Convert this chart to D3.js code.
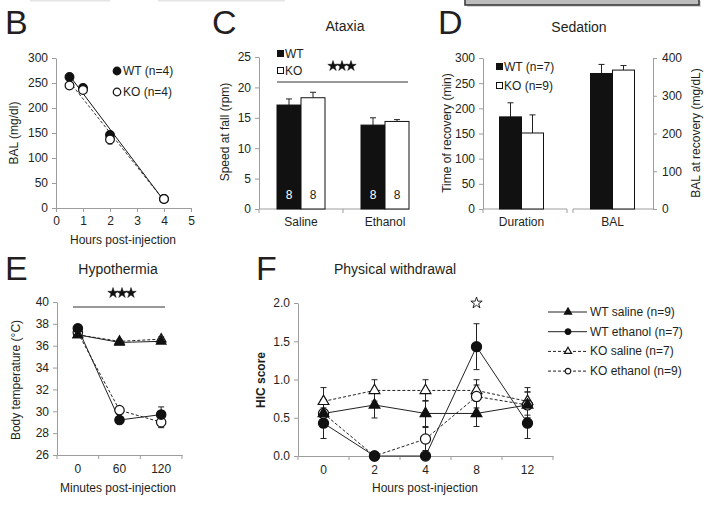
<!DOCTYPE html>
<html>
<head>
<meta charset="utf-8">
<script src="https://cdn.jsdelivr.net/npm/d3@7"></script>
<style>
body { margin: 0; background: #fff; }
svg { font-family: "Liberation Sans", Arial, sans-serif; }
</style>
</head>
<body>
<svg id="fig" width="723" height="505"></svg>
<script>
// ---- data ----
// B: blood alcohol clearance
const bHours = [0.5, 1, 2, 4];
const bWT = [262, 240, 146, 18];
const bWTErr = [6, 5, 6, 2];
const bKO = [245, 236, 137, 18];
const bKOErr = [6, 5, 9, 2];

// C: ataxia
const cCats = ["Saline", "Ethanol"];
const cWT = [17.1, 13.8];
const cWTErr = [1.0, 1.2];
const cKO = [18.3, 14.4];
const cKOErr = [0.9, 0.3];
const cN = [8, 8];

// D: sedation (Duration on left axis, BAL on right axis)
const dCats = ["Duration", "BAL"];
const dWT = [183, 359];
const dWTErr = [28, 24];
const dKO = [151, 368];
const dKOErr = [36, 12];

// E: hypothermia
const eTimes = ["0", "60", "120"];
const eWTSal = [37.0, 36.3, 36.4];
const eWTSalErr = [0.2, 0.15, 0.2];
const eWTEth = [37.6, 29.2, 29.7];
const eWTEthErr = [0.25, 0.2, 0.7];
const eKOSal = [37.0, 36.4, 36.6];
const eKOSalErr = [0.2, 0.15, 0.2];
const eKOEth = [37.2, 30.1, 29.0];
const eKOEthErr = [0.3, 0.2, 0.5];

// F: physical withdrawal
const fHours = ["0", "2", "4", "8", "12"];
const fWTSal = [0.556, 0.667, 0.556, 0.556, 0.667];
const fWTSalErr = [0.18, 0.17, 0.17, 0.17, 0.17];
const fWTEth = [0.429, 0, 0, 1.429, 0.429];
const fWTEthErr = [0.2, 0, 0, 0.3, 0.2];
const fKOSal = [0.714, 0.857, 0.857, 0.857, 0.714];
const fKOSalErr = [0.18, 0.14, 0.14, 0.14, 0.18];
const fKOEth = [0.556, 0, 0.222, 0.778, 0.667];
const fKOEthErr = [0.18, 0, 0.15, 0.15, 0.17];
const fLegend = ["WT saline (n=9)", "WT ethanol (n=7)", "KO saline (n=7)", "KO ethanol (n=9)"];

const ink = "#231f20";
const axisGray = "#9d9d9d";

const svg = d3.select("#fig");

function styleAxis(g) {
	g.attr("font-size", 12).attr("font-family", null);
	g.select(".domain").attr("stroke", axisGray);
	g.selectAll(".tick line").attr("stroke", axisGray);
	g.selectAll(".tick text").attr("fill", ink);
}

function label(x, y, txt, opts = {}) {
	const t = svg.append("text")
		.attr("x", x).attr("y", y)
		.attr("fill", ink)
		.attr("font-size", opts.size || 12)
		.attr("text-anchor", opts.anchor || "middle")
		.text(txt);
	if (opts.rotate) t.attr("transform", `rotate(-90,${x},${y})`);
	if (opts.weight) t.attr("font-weight", opts.weight);
	return t;
}

// vertical error bar; lowCap=false gives a one-sided bar (bars in C, D)
function errBar(g, x, yLo, yHi, cap = 3, lowCap = true) {
	g.append("line").attr("x1", x).attr("x2", x).attr("y1", yLo).attr("y2", yHi)
		.attr("stroke", "#222").attr("stroke-width", 1);
	g.append("line").attr("x1", x - cap).attr("x2", x + cap).attr("y1", yHi).attr("y2", yHi)
		.attr("stroke", "#222").attr("stroke-width", 1);
	if (lowCap) {
		g.append("line").attr("x1", x - cap).attr("x2", x + cap).attr("y1", yLo).attr("y2", yLo)
			.attr("stroke", "#222").attr("stroke-width", 1);
	}
}

function marker(g, x, y, type, filled, size) {
	const sym = type === "tri" ? d3.symbolTriangle : d3.symbolCircle;
	g.append("path")
		.attr("d", d3.symbol().type(sym).size(size)())
		.attr("transform", `translate(${x},${y})`)
		.attr("fill", filled ? "#111" : "#fff")
		.attr("stroke", "#111")
		.attr("stroke-width", 1.2);
}

function stars(g, cx, cy, n, filled) {
	for (let i = 0; i < n; i++) {
		g.append("path")
			.attr("d", d3.symbol().type(d3.symbolStar).size(filled ? 34 : 40)())
			.attr("transform", `translate(${cx + (i - (n - 1) / 2) * 9},${cy})`)
			.attr("fill", filled ? "#111" : "#fff")
			.attr("stroke", "#111")
			.attr("stroke-width", filled ? 0.5 : 0.9);
	}
}

// top remnants of the panel above
svg.append("rect").attr("x", 30).attr("y", 0).attr("width", 80).attr("height", 1.5).attr("fill", "#e4e4e4");
svg.append("rect").attr("x", 158).attr("y", 0).attr("width", 127).attr("height", 1.5).attr("fill", "#e4e4e4");
svg.append("rect").attr("x", 467).attr("y", 1).attr("width", 234).attr("height", 6).attr("fill", "#d8d8d8");
svg.append("rect").attr("x", 465).attr("y", -6).attr("width", 234).attr("height", 11)
	.attr("fill", "#bdbdbd").attr("stroke", "#333").attr("stroke-width", 1.5);

// panel letters
[["B", 5, 34], ["C", 212, 34], ["D", 438, 34], ["E", 5, 280], ["F", 256, 280]].forEach(([l, x, y]) => {
	label(x, y, l, { size: 34, anchor: "start" });
});

// ---- B ----
{
	const g = svg.append("g");
	const x = d3.scaleLinear().domain([0, 5]).range([56, 191]);
	const y = d3.scaleLinear().domain([0, 300]).range([208, 58]);

	g.append("g").attr("transform", "translate(0,208)")
		.call(d3.axisBottom(x).ticks(5).tickSize(4).tickSizeOuter(0).tickPadding(4)).call(styleAxis);
	g.append("g").attr("transform", "translate(56,0)")
		.call(d3.axisLeft(y).ticks(6).tickSize(4).tickSizeOuter(0).tickPadding(4)).call(styleAxis);

	// least squares fit lines
	function fit(xs, ys) {
		const mx = d3.mean(xs), my = d3.mean(ys);
		const sxy = d3.sum(xs, (v, i) => (v - mx) * (ys[i] - my));
		const sxx = d3.sum(xs, v => (v - mx) ** 2);
		const b = sxy / sxx;
		return v => my + b * (v - mx);
	}
	const fW = fit(bHours, bWT), fK = fit(bHours, bKO);
	const x0 = bHours[0], x1 = bHours[bHours.length - 1];
	g.append("line").attr("x1", x(x0)).attr("x2", x(x1)).attr("y1", y(fK(x0))).attr("y2", y(fK(x1)))
		.attr("stroke", "#333").attr("stroke-dasharray", "3,2");
	g.append("line").attr("x1", x(x0)).attr("x2", x(x1)).attr("y1", y(fW(x0))).attr("y2", y(fW(x1)))
		.attr("stroke", "#111");

	bHours.forEach((h, i) => {
		errBar(g, x(h), y(bKO[i] - bKOErr[i]), y(bKO[i] + bKOErr[i]), 2.5);
		errBar(g, x(h), y(bWT[i] - bWTErr[i]), y(bWT[i] + bWTErr[i]), 2.5);
		marker(g, x(h), y(bWT[i]), "circ", true, 60);
		marker(g, x(h), y(bKO[i]), "circ", false, 60);
	});

	marker(g, 117, 71, "circ", true, 45);
	label(123, 75, "WT (n=4)", { anchor: "start" });
	marker(g, 117, 92, "circ", false, 45);
	label(123, 96, "KO (n=4)", { anchor: "start" });

	label(123, 244, "Hours post-injection");
	label(18, 133, "BAL (mg/dl)", { rotate: true });
}

// ---- C ----
{
	const g = svg.append("g");
	const x = d3.scaleBand().domain(cCats).range([259, 427]);
	const y = d3.scaleLinear().domain([0, 25]).range([209, 57]);
	const bw = 24;

	label(345, 31, "Ataxia", { size: 14 });

	g.append("g").attr("transform", "translate(259,0)")
		.call(d3.axisLeft(y).ticks(5).tickSize(4).tickSizeOuter(0).tickPadding(4)).call(styleAxis);
	g.append("line").attr("x1", 259).attr("x2", 409).attr("y1", 209).attr("y2", 209).attr("stroke", axisGray);
	[259, 343].forEach(t => g.append("line").attr("x1", t).attr("x2", t).attr("y1", 209).attr("y2", 213).attr("stroke", axisGray));

	cCats.forEach((c, i) => {
		const xc = x(c) + x.bandwidth() / 2;
		errBar(g, xc - bw / 2, y(cWT[i]), y(cWT[i] + cWTErr[i]), 3, false);
		errBar(g, xc + bw / 2, y(cKO[i]), y(cKO[i] + cKOErr[i]), 3, false);
		g.append("rect").attr("x", xc - bw).attr("y", y(cWT[i])).attr("width", bw).attr("height", y(0) - y(cWT[i]))
			.attr("fill", "#111").attr("stroke", "#111");
		g.append("rect").attr("x", xc).attr("y", y(cKO[i])).attr("width", bw).attr("height", y(0) - y(cKO[i]))
			.attr("fill", "#fff").attr("stroke", "#111");
		label(xc - bw / 2, 199, cN[i]).attr("fill", "#fff");
		label(xc + bw / 2, 199, cN[i]);
		label(xc, 226, c);
	});

	g.append("rect").attr("x", 277).attr("y", 50).attr("width", 7).attr("height", 7).attr("fill", "#111");
	label(285, 58, "WT", { anchor: "start" });
	g.append("rect").attr("x", 277.5).attr("y", 67.5).attr("width", 6).attr("height", 6).attr("fill", "#fff").attr("stroke", "#111");
	label(285, 75, "KO", { anchor: "start" });

	stars(g, 342, 66, 3, true);
	g.append("line").attr("x1", 277).attr("x2", 408).attr("y1", 82).attr("y2", 82).attr("stroke", "#333");

	label(229, 132, "Speed at fall (rpm)", { rotate: true });
}

// ---- D ----
{
	const g = svg.append("g");
	const x = d3.scaleBand().domain(dCats).range([476, 658]);
	const yL = d3.scaleLinear().domain([0, 300]).range([209, 58]);
	const yR = d3.scaleLinear().domain([0, 400]).range([209, 58]);
	const scales = [yL, yR];
	const bw = 22;

	label(579, 32, "Sedation", { size: 14 });

	g.append("g").attr("transform", "translate(483,0)")
		.call(d3.axisLeft(yL).ticks(6).tickSize(4).tickSizeOuter(0).tickPadding(4)).call(styleAxis);
	g.append("g").attr("transform", "translate(653,0)")
		.call(d3.axisRight(yR).ticks(4).tickSize(4).tickSizeOuter(0).tickPadding(5)).call(styleAxis);
	[[483, 567], [573, 653]].forEach(([a, b]) => {
		g.append("line").attr("x1", a).attr("x2", b).attr("y1", 209).attr("y2", 209).attr("stroke", axisGray);
	});
	[483, 567, 573].forEach(t => g.append("line").attr("x1", t).attr("x2", t).attr("y1", 209).attr("y2", 213).attr("stroke", axisGray));

	dCats.forEach((c, i) => {
		const y = scales[i];
		const xc = x(c) + x.bandwidth() / 2;
		errBar(g, xc - bw / 2, y(dWT[i]), y(dWT[i] + dWTErr[i]), 3, false);
		errBar(g, xc + bw / 2, y(dKO[i]), y(dKO[i] + dKOErr[i]), 3, false);
		g.append("rect").attr("x", xc - bw).attr("y", y(dWT[i])).attr("width", bw).attr("height", y(0) - y(dWT[i]))
			.attr("fill", "#111").attr("stroke", "#111");
		g.append("rect").attr("x", xc).attr("y", y(dKO[i])).attr("width", bw).attr("height", y(0) - y(dKO[i]))
			.attr("fill", "#fff").attr("stroke", "#111");
		label(xc, 226, c);
	});

	g.append("rect").attr("x", 496).attr("y", 63).attr("width", 7).attr("height", 7).attr("fill", "#111");
	label(504, 71, "WT (n=7)", { anchor: "start" });
	g.append("rect").attr("x", 496.5).attr("y", 82.5).attr("width", 6).attr("height", 6).attr("fill", "#fff").attr("stroke", "#111");
	label(504, 90, "KO (n=9)", { anchor: "start" });

	label(451, 133, "Time of recovery (min)", { rotate: true });
	label(700, 133, "BAL at recovery (mg/dL)", { rotate: true });
}

// ---- E ----
{
	const g = svg.append("g");
	const x = d3.scaleBand().domain(eTimes).range([57, 182]);
	const y = d3.scaleLinear().domain([26, 40]).range([455, 302]);
	const cx = t => x(t) + x.bandwidth() / 2;

	label(118, 274, "Hypothermia", { size: 14 });

	g.append("g").attr("transform", "translate(57,0)")
		.call(d3.axisLeft(y).ticks(7).tickSize(4).tickSizeOuter(0).tickPadding(4)).call(styleAxis);
	g.append("g").attr("transform", "translate(0,455)")
		.call(d3.axisBottom(x).tickSize(0).tickPadding(9)).call(styleAxis);
	[57, 182].concat(eTimes.slice(1).map(t => x(t))).forEach(t =>
		g.append("line").attr("x1", t).attr("x2", t).attr("y1", 455).attr("y2", 459).attr("stroke", axisGray));

	const series = [
		{ v: eKOSal, e: eKOSalErr, type: "tri", filled: false, dash: true },
		{ v: eKOEth, e: eKOEthErr, type: "circ", filled: false, dash: true },
		{ v: eWTSal, e: eWTSalErr, type: "tri", filled: true, dash: false },
		{ v: eWTEth, e: eWTEthErr, type: "circ", filled: true, dash: false }
	];
	const line = d3.line().x((d, i) => cx(eTimes[i])).y(d => y(d));
	series.forEach(s => {
		g.append("path").attr("d", line(s.v)).attr("fill", "none").attr("stroke", "#222")
			.attr("stroke-dasharray", s.dash ? "3,2" : null);
	});
	series.forEach(s => s.v.forEach((v, i) => errBar(g, cx(eTimes[i]), y(v - s.e[i]), y(v + s.e[i]), 3)));
	series.forEach(s => s.v.forEach((v, i) =>
		marker(g, cx(eTimes[i]), y(v), s.type, s.filled, s.type === "tri" ? 40 : 70)));

	stars(g, 122, 293, 3, true);
	g.append("line").attr("x1", 73).attr("x2", 165).attr("y1", 307).attr("y2", 307).attr("stroke", "#333");

	label(118, 492, "Minutes post-injection");
	label(20, 380, "Body temperature (°C)", { rotate: true });
}

// ---- F ----
{
	const g = svg.append("g");
	const x = d3.scaleBand().domain(fHours).range([298, 553]);
	const y = d3.scaleLinear().domain([0, 2]).range([456, 303]);
	const cx = t => x(t) + x.bandwidth() / 2;

	label(395, 274, "Physical withdrawal", { size: 14 });

	g.append("g").attr("transform", "translate(298,0)")
		.call(d3.axisLeft(y).ticks(4).tickFormat(d3.format(".1f")).tickSize(4).tickSizeOuter(0).tickPadding(4)).call(styleAxis);
	g.append("g").attr("transform", "translate(0,456)")
		.call(d3.axisBottom(x).tickSize(0).tickPadding(9)).call(styleAxis);
	[298, 553].concat(fHours.slice(1).map(t => x(t))).forEach(t =>
		g.append("line").attr("x1", t).attr("x2", t).attr("y1", 456).attr("y2", 460).attr("stroke", axisGray));

	const series = [
		{ v: fWTSal, e: fWTSalErr, type: "tri", filled: true, dash: false },
		{ v: fWTEth, e: fWTEthErr, type: "circ", filled: true, dash: false },
		{ v: fKOSal, e: fKOSalErr, type: "tri", filled: false, dash: true },
		{ v: fKOEth, e: fKOEthErr, type: "circ", filled: false, dash: true }
	];
	const line = d3.line().x((d, i) => cx(fHours[i])).y(d => y(d));
	series.forEach(s => {
		g.append("path").attr("d", line(s.v)).attr("fill", "none").attr("stroke", "#222")
			.attr("stroke-dasharray", s.dash ? "3,2" : null);
	});
	series.forEach(s => s.v.forEach((v, i) => {
		if (s.e[i] > 0) errBar(g, cx(fHours[i]), y(v - s.e[i]), y(v + s.e[i]), 3);
	}));
	[series[2], series[3], series[0], series[1]].forEach(s => s.v.forEach((v, i) =>
		marker(g, cx(fHours[i]), y(v), s.type, s.filled, s.type === "tri" ? 50 : 80)));

	stars(g, cx("8"), 303, 1, false);

	// legend
	series.forEach((s, i) => {
		const ly = 312 + i * 19.7;
		g.append("line").attr("x1", 548).attr("x2", 587).attr("y1", ly).attr("y2", ly)
			.attr("stroke", "#222").attr("stroke-dasharray", s.dash ? "3,2" : null);
		marker(g, 568, ly, s.type, s.filled, s.type === "tri" ? 22 : 25);
		label(590, ly + 4, fLegend[i], { anchor: "start" });
	});

	label(425, 492, "Hours post-injection");
	label(265, 380, "HIC score", { rotate: true, weight: "bold" });
}
</script>
</body>
</html>
